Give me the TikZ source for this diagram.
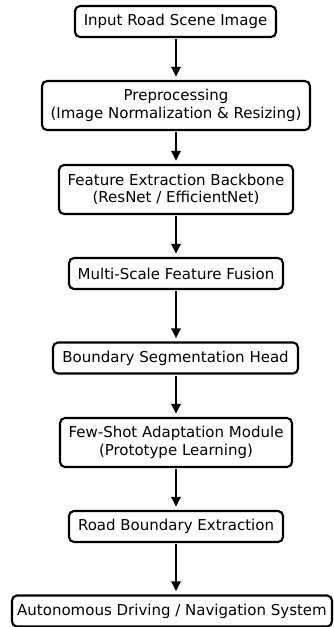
\documentclass[tikz,border=0pt]{standalone}
\usepackage{fontspec}
\setmainfont{DejaVu Sans}
\usetikzlibrary{arrows.meta}
\tikzset{
  flowbox/.style={draw=black, line width=2.1pt, rounded corners=5pt, align=center,
    font=\fontsize{15}{17.5}\selectfont, inner xsep=4pt, inner ysep=2pt, fill=white},
  onebox/.style={flowbox, minimum height=31pt},
  twobox/.style={flowbox, minimum height=49pt},
  flowarrow/.style={line width=2.6pt, -{Triangle[length=10pt,width=9pt]}, shorten >=3pt, shorten <=1pt}
}
\begin{document}
\begin{tikzpicture}[x=1pt,y=1pt]
\useasboundingbox (0,0) rectangle (333,-627);
\node[onebox, minimum width=201pt] (n1) at (175.5,-21.5) {Input Road Scene Image};
\node[twobox, minimum width=268pt] (n2) at (176,-105.5) {Preprocessing\\(Image Normalization \& Resizing)};
\node[twobox, minimum width=234pt] (n3) at (176,-189.5) {Feature Extraction Backbone\\(ResNet / EfficientNet)};
\node[onebox, minimum width=214pt] (n4) at (176,-273.5) {Multi-Scale Feature Fusion};
\node[onebox, minimum width=245pt] (n5) at (175.5,-358) {Boundary Segmentation Head};
\node[twobox, minimum width=232pt] (n6) at (176,-442.5) {Few-Shot Adaptation Module\\(Prototype Learning)};
\node[onebox, minimum width=214pt] (n7) at (176,-526.5) {Road Boundary Extraction};
\node[onebox, minimum width=320pt] (n8) at (172,-611) {Autonomous Driving / Navigation System};
\draw[flowarrow] (n1.south -| 176,0) -- (n2.north -| 176,0);
\draw[flowarrow] (n2.south -| 176,0) -- (n3.north -| 176,0);
\draw[flowarrow] (n3.south -| 176,0) -- (n4.north -| 176,0);
\draw[flowarrow] (n4.south -| 176,0) -- (n5.north -| 176,0);
\draw[flowarrow] (n5.south -| 176,0) -- (n6.north -| 176,0);
\draw[flowarrow] (n6.south -| 176,0) -- (n7.north -| 176,0);
\draw[flowarrow] (n7.south -| 176,0) -- (n8.north -| 176,0);
\end{tikzpicture}
\end{document}
